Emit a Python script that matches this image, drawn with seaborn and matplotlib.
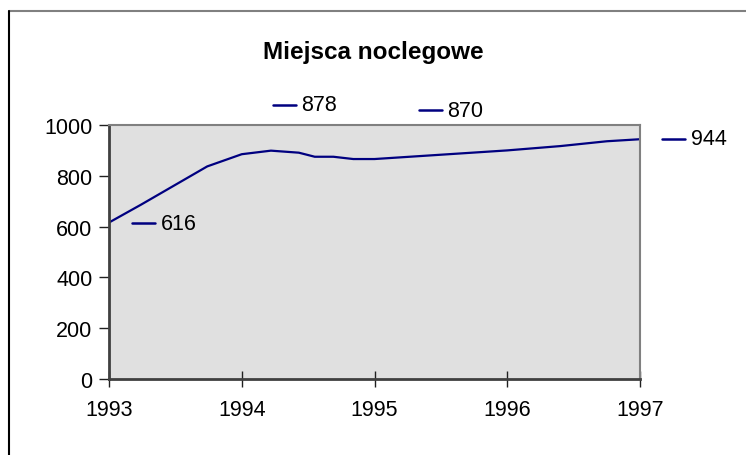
import matplotlib
matplotlib.use("Agg")
import matplotlib.pyplot as plt
from matplotlib.lines import Line2D
import pandas as pd
import seaborn as sns

# data (x in fractional years)
years = [1993.0, 1993.24, 1993.74, 1994.0, 1994.22, 1994.43, 1994.55, 1994.69,
         1994.84, 1995.0, 1995.5, 1996.0, 1996.4, 1996.75, 1997.0]
miejsca = [616, 686, 837, 885, 899, 891, 875, 875, 866, 866, 883, 900, 917, 936, 944]

tick_years = [1993, 1994, 1995, 1996, 1997]
y_ticks = [0, 200, 400, 600, 800, 1000]

# data labels as shown on the chart
label_values = [616, 878, 870, 944]
# where the labels were dragged to (data coords of the dash start)
label_x = [1993.174, 1994.235, 1995.335, 1997.167]
label_y = [614, 1079, 1059, 945]

NAVY = "#000080"

sns.set_theme(style="white")
plt.rcParams["font.family"] = ["Liberation Sans", "DejaVu Sans"]
plt.rcParams["text.color"] = "black"
plt.rcParams["xtick.color"] = "black"
plt.rcParams["ytick.color"] = "black"

df = pd.DataFrame({"rok": years, "miejsca": miejsca})

fig = plt.figure(figsize=(7.46, 4.56), dpi=100)
ax = fig.add_axes([109 / 746, 76 / 456, 531 / 746, 254 / 456])

sns.lineplot(data=df, x="rok", y="miejsca", color=NAVY, linewidth=1.6, ax=ax)

ax.set_facecolor("#E0E0E0")
ax.set_xlim(1993, 1997)
ax.set_ylim(0, 1000)
ax.set_xticks(tick_years)
ax.set_xticklabels([str(y) for y in tick_years])
ax.set_yticks(y_ticks)
ax.set_xlabel("")
ax.set_ylabel("")
ax.grid(False)

for side in ["top", "right"]:
    ax.spines[side].set_color("#808080")
    ax.spines[side].set_linewidth(1.5)
for side in ["left", "bottom"]:
    ax.spines[side].set_color("#404040")
    ax.spines[side].set_linewidth(2)

ax.tick_params(axis="x", direction="inout", length=11, width=1, color="#202020",
               pad=9, labelsize=15.5, labelcolor="black", bottom=True)
ax.tick_params(axis="y", direction="out", length=7, width=1, color="#202020",
               pad=5, labelsize=15.5, labelcolor="black", left=True)

# Excel-style data labels: short dash (legend key) + value
dash_len = 0.174
for v, lx, ly in zip(label_values, label_x, label_y):
    ax.add_line(Line2D([lx, lx + dash_len], [ly, ly], color=NAVY, linewidth=1.8,
                       clip_on=False))
    ax.text(lx + dash_len + 0.04, ly, str(v), fontsize=15.5, va="center", ha="left",
            color="black", clip_on=False)

fig.suptitle("Miejsca noclegowe", x=0.5, y=1 - 52 / 456, va="center",
             fontsize=17.5, fontweight="bold", color="black")

# outer chart frame (only the top and left edges are visible)
fig.add_artist(Line2D([9 / 746, 1], [1 - 11.5 / 456, 1 - 11.5 / 456],
                      transform=fig.transFigure, color="#808080", linewidth=1.5))
fig.add_artist(Line2D([9 / 746, 9 / 746], [0, 1 - 11.5 / 456],
                      transform=fig.transFigure, color="black", linewidth=1.5))

fig.savefig("out.png", dpi=100)
